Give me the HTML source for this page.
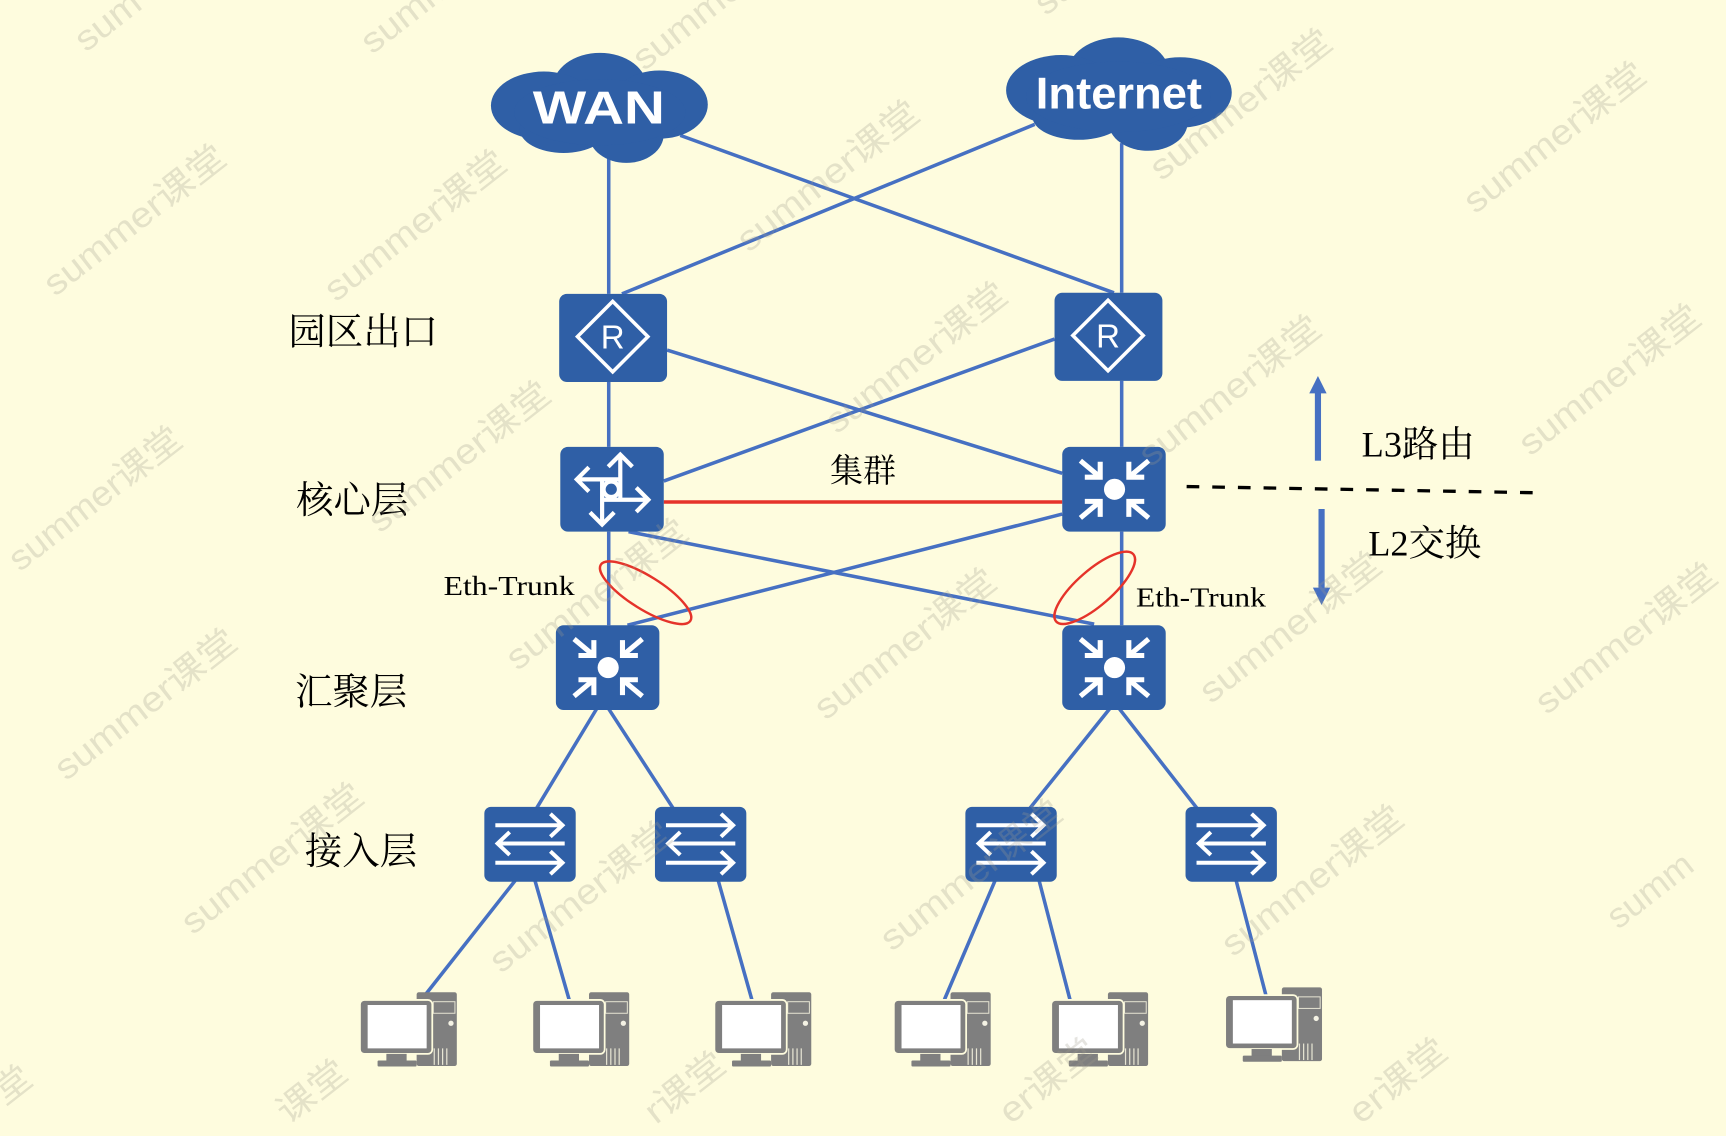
<!DOCTYPE html>
<html><head><meta charset="utf-8"><style>
html,body{margin:0;padding:0;background:#FEFCDE;width:1726px;height:1136px;overflow:hidden;}
svg{display:block;}
</style></head><body>
<svg xmlns="http://www.w3.org/2000/svg" width="1726" height="1136" viewBox="0 0 1568 1032" overflow="hidden">
<defs>
<g id="pc">
  <rect x="51.5" y="-7" width="36.5" height="67" rx="2" fill="#7F7F7F"/>
  <rect x="66.6" y="1.6" width="19.7" height="10.5" fill="none" stroke="#E8E6D4" stroke-width="0.9"/>
  <circle cx="82.7" cy="21.2" r="2.4" fill="#F4F2E4"/>
  <g stroke="#E8E6D4" stroke-width="1.1">
    <line x1="67.5" y1="44" x2="67.5" y2="59"/><line x1="71.3" y1="44" x2="71.3" y2="59"/>
    <line x1="75.1" y1="44" x2="75.1" y2="59"/><line x1="78.9" y1="44" x2="78.9" y2="59"/>
  </g>
  <rect x="0" y="0" width="65.7" height="49" rx="4" fill="#7F7F7F" stroke="#FEFCDE" stroke-width="1.6"/>
  <rect x="7" y="4.6" width="53.6" height="39.4" fill="#FFFFFF"/>
  <rect x="24" y="49" width="18.4" height="6.5" fill="#7F7F7F"/>
  <rect x="16" y="55" width="35.5" height="5.5" rx="1" fill="#7F7F7F"/>
</g>
<g id="router">
  <rect x="0" y="0" width="98" height="80" rx="7" fill="#2F5FA6"/>
  <polygon points="48.6,6.8 80.6,38.8 48.6,70.8 16.6,38.8" fill="none" stroke="#fff" stroke-width="3.2"/>
</g>
<g id="l3sw">
  <rect x="0" y="0" width="94" height="77" rx="7" fill="#2F5FA6"/>
  <circle cx="47.5" cy="38.5" r="9.6" fill="#fff"/>
  <g fill="none" stroke="#fff" stroke-width="4.6" stroke-linejoin="miter" stroke-linecap="butt">
    <path d="M16.5 12.5 L34.5 27.5 M20.5 27.5 H34.5 V13.5"/>
    <path d="M78.5 12.5 L60.5 27.5 M74.5 27.5 H60.5 V13.5"/>
    <path d="M16.5 64.5 L34.5 49.5 M20.5 49.5 H34.5 V63.5"/>
    <path d="M78.5 64.5 L60.5 49.5 M74.5 49.5 H60.5 V63.5"/>
  </g>
</g>
<g id="acc">
  <rect x="0" y="0" width="83" height="68" rx="6" fill="#2F5FA6"/>
  <g fill="none" stroke="#fff" stroke-width="3.6" stroke-linejoin="miter">
    <path d="M10 16.7 H70 M60 6.3 L71 16.7 L60 27.1"/>
    <path d="M73 33.3 H13 M23 22.9 L12 33.3 L23 43.7"/>
    <path d="M10 50.8 H70 M60 40.4 L71 50.8 L60 61.2"/>
  </g>
</g>
</defs>

<rect x="0" y="0" width="1568" height="1032" fill="#FEFCDE"/>

<!-- connector lines -->
<g stroke="#4670C2" stroke-width="3.2" fill="none">
  <line x1="553" y1="140" x2="553" y2="267"/>
  <line x1="1019" y1="130" x2="1019" y2="266"/>
  <line x1="618" y1="123" x2="1012" y2="266"/>
  <line x1="940" y1="113" x2="565" y2="267"/>
  <line x1="553" y1="347" x2="553" y2="406"/>
  <line x1="1019" y1="346" x2="1019" y2="406"/>
  <line x1="606" y1="318" x2="965" y2="430"/>
  <line x1="958" y1="308" x2="603" y2="437"/>
  <line x1="553" y1="483" x2="553" y2="568"/>
  <line x1="1019" y1="483" x2="1019" y2="568"/>
  <line x1="571" y1="483" x2="994" y2="567"/>
  <line x1="965" y1="467" x2="570" y2="568"/>
  <line x1="542" y1="644" x2="487" y2="735"/>
  <line x1="553" y1="644" x2="612" y2="735"/>
  <line x1="1008" y1="644" x2="935" y2="735"/>
  <line x1="1017" y1="644" x2="1088" y2="735"/>
  <line x1="468" y1="800" x2="383" y2="908"/>
  <line x1="486" y1="800" x2="517" y2="908"/>
  <line x1="652.5" y1="800" x2="683" y2="908"/>
  <line x1="904" y1="800" x2="858" y2="908"/>
  <line x1="944" y1="800" x2="972" y2="908"/>
  <line x1="1123" y1="800" x2="1150" y2="904"/>
</g>
<line x1="603" y1="456" x2="965" y2="456" stroke="#E5332A" stroke-width="3.2"/>

<!-- clouds -->
<g fill="#2F5FA6">
  <ellipse cx="545" cy="80" rx="43" ry="32"/>
  <ellipse cx="494" cy="96" rx="48" ry="31"/>
  <ellipse cx="599" cy="95" rx="44" ry="31"/>
  <ellipse cx="512" cy="117" rx="40" ry="22"/>
  <ellipse cx="569" cy="122" rx="34" ry="26"/>
  <ellipse cx="545" cy="102" rx="78" ry="30"/>
</g>
<g fill="#2F5FA6">
  <ellipse cx="1016" cy="66" rx="46" ry="32"/>
  <ellipse cx="964" cy="82" rx="50" ry="32"/>
  <ellipse cx="1072" cy="84" rx="47" ry="32"/>
  <ellipse cx="980" cy="106" rx="42" ry="21"/>
  <ellipse cx="1043" cy="111" rx="36" ry="26"/>
  <ellipse cx="1016" cy="88" rx="84" ry="32"/>
</g>
<text x="484" y="112" font-family="Liberation Sans, Arial, sans-serif" font-weight="bold" font-size="42" fill="#fff" textLength="120" lengthAdjust="spacingAndGlyphs">WAN</text>
<text x="941" y="98.4" font-family="Liberation Sans, Arial, sans-serif" font-weight="bold" font-size="40" fill="#fff" textLength="151" lengthAdjust="spacingAndGlyphs">Internet</text>

<!-- routers -->
<use href="#router" x="508" y="267"/>
<use href="#router" x="958" y="266"/>
<text x="556.6" y="316.5" text-anchor="middle" font-family="Liberation Sans, sans-serif" font-size="30" fill="#fff">R</text>
<text x="1006.6" y="315.5" text-anchor="middle" font-family="Liberation Sans, sans-serif" font-size="30" fill="#fff">R</text>

<!-- core 1 -->
<g transform="translate(509,406)">
  <rect x="0" y="0" width="94" height="77" rx="7" fill="#2F5FA6"/>
  <g fill="none" stroke="#fff" stroke-width="3.8" stroke-linejoin="miter">
    <circle cx="46.3" cy="38.5" r="7"/>
    <path d="M15 29.5 H54.5"/>
    <path d="M26 18.5 L15 29.5 L26 40.5"/>
    <path d="M54.5 7 V48"/>
    <path d="M43.5 18 L54.5 7 L65.5 18"/>
    <path d="M38 48 H80"/>
    <path d="M69 37 L80 48 L69 59"/>
    <path d="M38 29.5 V70.5"/>
    <path d="M27 59.5 L38 70.5 L49 59.5"/>
  </g>
</g>
<use href="#l3sw" x="965" y="406"/>
<use href="#l3sw" x="505" y="568"/>
<use href="#l3sw" x="965" y="568"/>

<!-- access -->
<use href="#acc" x="440" y="733"/>
<use href="#acc" x="595" y="733"/>
<use href="#acc" x="877" y="733"/>
<use href="#acc" x="1077" y="733"/>

<!-- PCs -->
<use href="#pc" x="327" y="908.4"/>
<use href="#pc" x="483.6" y="908.4"/>
<use href="#pc" x="649" y="908.4"/>
<use href="#pc" x="812" y="908.4"/>
<use href="#pc" x="955" y="908.4"/>
<use href="#pc" x="1113" y="904"/>

<!-- Eth-Trunk ellipses -->
<ellipse cx="586.5" cy="538.5" rx="48" ry="15" transform="rotate(32 586.5 538.5)" fill="none" stroke="#E5332A" stroke-width="2.2"/>
<ellipse cx="994.5" cy="534" rx="46.5" ry="16" transform="rotate(-41 994.5 534)" fill="none" stroke="#E5332A" stroke-width="2.2"/>

<!-- labels -->
<g font-family="Liberation Serif, 'Noto Serif CJK SC', serif" fill="#000">
  <text x="262" y="313" font-size="34">园区出口</text>
  <text x="269" y="466" font-size="34">核心层</text>
  <text x="268" y="640" font-size="34">汇聚层</text>
  <text x="277" y="785" font-size="34">接入层</text>
  <text x="754" y="438" font-size="30">集群</text>
  <text x="403" y="540.5" font-size="25" textLength="119" lengthAdjust="spacingAndGlyphs">Eth-Trunk</text>
  <text x="1032" y="551" font-size="25" textLength="118" lengthAdjust="spacingAndGlyphs">Eth-Trunk</text>
  <text x="1237" y="414.5" font-size="33">L3路由</text>
  <text x="1243" y="504.5" font-size="33">L2交换</text>
</g>

<!-- L3/L2 arrows & dashed line -->
<g fill="#4670C2">
  <rect x="1194.5" y="356" width="5.6" height="62.5"/>
  <polygon points="1197.3,341.6 1205.2,357.4 1189.4,357.4"/>
  <rect x="1197.8" y="462.4" width="5.6" height="72"/>
  <polygon points="1200.6,549.6 1208.5,533.8 1192.7,533.8"/>
</g>
<line x1="1078" y1="442" x2="1393" y2="447.6" stroke="#000" stroke-width="3" stroke-dasharray="11.5 11.8"/>

<!-- watermarks -->
<g font-family="Liberation Sans, 'Noto Sans CJK SC', sans-serif" font-size="32" fill="#9E9C8E" fill-opacity="0.27">
  <text transform="translate(78,48) rotate(-38)" textLength="67" lengthAdjust="spacingAndGlyphs">sum</text>
  <text transform="translate(338,50) rotate(-38)" textLength="97" lengthAdjust="spacingAndGlyphs">summ</text>
  <text transform="translate(585,65) rotate(-38)" textLength="117" lengthAdjust="spacingAndGlyphs">summe</text>
  <text transform="translate(950,15) rotate(-38)" textLength="37" lengthAdjust="spacingAndGlyphs">su</text>
  <text transform="translate(50,270) rotate(-38)" textLength="200" lengthAdjust="spacingAndGlyphs">summer课堂</text>
  <text transform="translate(305,275) rotate(-38)" textLength="200" lengthAdjust="spacingAndGlyphs">summer课堂</text>
  <text transform="translate(680,230) rotate(-38)" textLength="200" lengthAdjust="spacingAndGlyphs">summer课堂</text>
  <text transform="translate(1055,165) rotate(-38)" textLength="200" lengthAdjust="spacingAndGlyphs">summer课堂</text>
  <text transform="translate(1340,195) rotate(-38)" textLength="200" lengthAdjust="spacingAndGlyphs">summer课堂</text>
  <text transform="translate(760,395) rotate(-38)" textLength="200" lengthAdjust="spacingAndGlyphs">summer课堂</text>
  <text transform="translate(1045,425) rotate(-38)" textLength="200" lengthAdjust="spacingAndGlyphs">summer课堂</text>
  <text transform="translate(1390,415) rotate(-38)" textLength="200" lengthAdjust="spacingAndGlyphs">summer课堂</text>
  <text transform="translate(345,485) rotate(-38)" textLength="200" lengthAdjust="spacingAndGlyphs">summer课堂</text>
  <text transform="translate(18,520) rotate(-38)" textLength="190" lengthAdjust="spacingAndGlyphs">summer课堂</text>
  <text transform="translate(470,610) rotate(-38)" textLength="200" lengthAdjust="spacingAndGlyphs">summer课堂</text>
  <text transform="translate(750,655) rotate(-38)" textLength="200" lengthAdjust="spacingAndGlyphs">summer课堂</text>
  <text transform="translate(1100,640) rotate(-38)" textLength="200" lengthAdjust="spacingAndGlyphs">summer课堂</text>
  <text transform="translate(1405,650) rotate(-38)" textLength="200" lengthAdjust="spacingAndGlyphs">summer课堂</text>
  <text transform="translate(60,710) rotate(-38)" textLength="200" lengthAdjust="spacingAndGlyphs">summer课堂</text>
  <text transform="translate(175,850) rotate(-38)" textLength="200" lengthAdjust="spacingAndGlyphs">summer课堂</text>
  <text transform="translate(455,885) rotate(-38)" textLength="200" lengthAdjust="spacingAndGlyphs">summer课堂</text>
  <text transform="translate(810,865) rotate(-38)" textLength="200" lengthAdjust="spacingAndGlyphs">summer课堂</text>
  <text transform="translate(1120,870) rotate(-38)" textLength="200" lengthAdjust="spacingAndGlyphs">summer课堂</text>
  <text transform="translate(1470,845) rotate(-38)" textLength="90" lengthAdjust="spacingAndGlyphs">summ</text>
  <text transform="translate(4,1005) rotate(-38)" textLength="35" lengthAdjust="spacingAndGlyphs">堂</text>
  <text transform="translate(262,1022) rotate(-38)" textLength="71" lengthAdjust="spacingAndGlyphs">课堂</text>
  <text transform="translate(596,1022) rotate(-38)" textLength="83" lengthAdjust="spacingAndGlyphs">r课堂</text>
  <text transform="translate(918,1022) rotate(-38)" textLength="103" lengthAdjust="spacingAndGlyphs">er课堂</text>
  <text transform="translate(1236,1022) rotate(-38)" textLength="103" lengthAdjust="spacingAndGlyphs">er课堂</text>
</g>
</svg>
</body></html>
